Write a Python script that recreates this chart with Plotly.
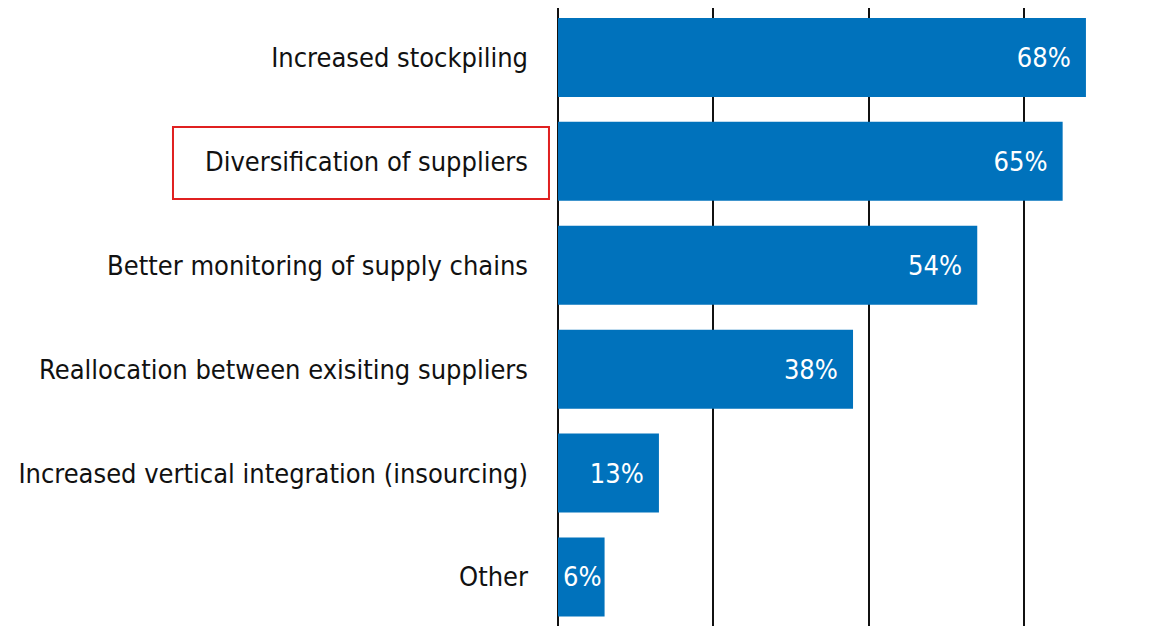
import plotly.graph_objects as go

# Measures taken after supply chain disruptions (share of firms)
measures = [
    "Increased stockpiling",
    "Diversification of suppliers",
    "Better monitoring of supply chains",
    "Reallocation between exisiting suppliers",
    "Increased vertical integration (insourcing)",
    "Other",
]
shares = [68, 65, 54, 38, 13, 6]

BLUE = "#0072bc"
FONT = "DejaVu Sans Condensed, Noto Sans, sans-serif"

# pad the label away from the bar end, except where the bar is too short
labels = [f"{v}%" + ("\u2002" if v >= 10 else "") for v in shares]

fig = go.Figure(go.Bar(
    x=shares, y=measures, orientation="h",
    marker=dict(color=BLUE, line=dict(width=0)),
    text=labels, textposition="inside", insidetextanchor="end",
    constraintext="none",
    textfont=dict(color="white", size=27, family=FONT),
    hoverinfo="x+y",
))

# the page body adds an 8px offset, margins compensate for it
fig.update_layout(
    width=1168, height=626,
    margin=dict(l=550, r=0, t=0, b=0),
    paper_bgcolor="white", plot_bgcolor="white",
    showlegend=False, bargap=0.24,
    font=dict(family=FONT, size=27, color="#111111"),
    xaxis=dict(range=[0, 79.6], dtick=20, showticklabels=False,
               showgrid=True, gridcolor="#111111", gridwidth=1.6,
               zeroline=True, zerolinecolor="#111111", zerolinewidth=1.6),
    yaxis=dict(autorange=False, range=[5.549, -0.476], type="category",
               showgrid=False, ticks="", ticklabelstandoff=29,
               tickfont=dict(size=27, family=FONT, color="#111111")),
    shapes=[dict(type="rect", xref="paper", yref="paper",
                 x0=-0.623, x1=-0.0146, y0=0.6949, y1=0.810,
                 line=dict(color="#e02020", width=2))],
)

fig.write_html("out.html")
